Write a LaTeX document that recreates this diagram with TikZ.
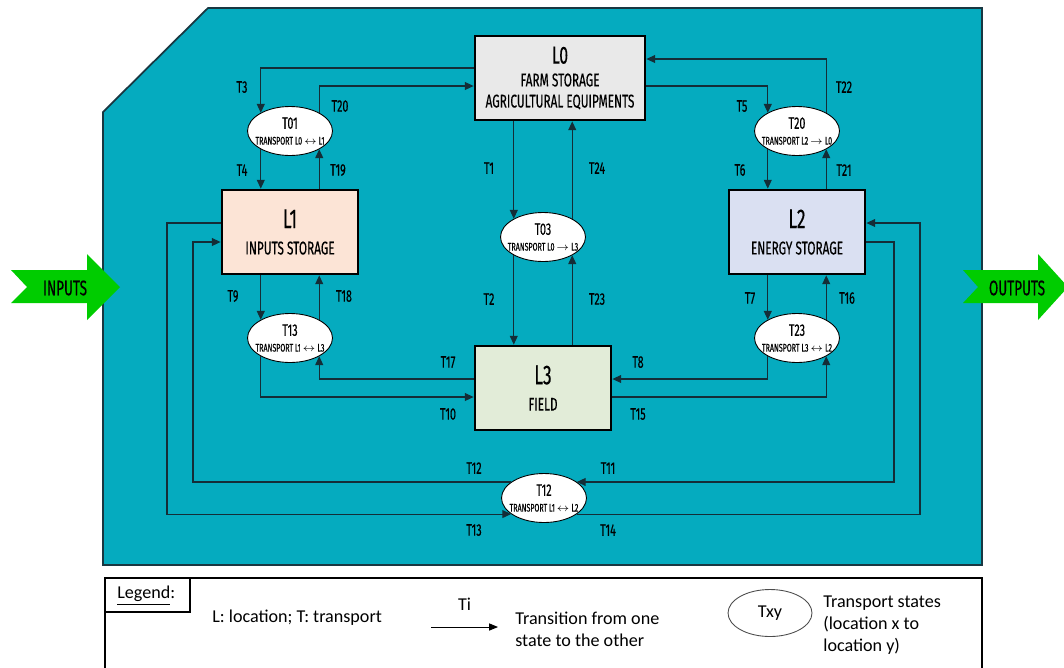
\documentclass[tikz,border=0pt]{standalone}
\usepackage{fontspec}
\setmainfont{Carlito}
\newfontfamily\agency{Fira Sans}[FakeStretch=0.64, FakeBold=0.4]
\usetikzlibrary{arrows.meta,shapes.geometric}
\definecolor{panelteal}{RGB}{5,171,191}
\definecolor{paneledge}{RGB}{25,55,65}
\definecolor{lineink}{RGB}{20,45,55}
\definecolor{fillzero}{RGB}{233,233,233}
\definecolor{fillone}{RGB}{252,228,214}
\definecolor{filltwo}{RGB}{218,224,242}
\definecolor{fillthree}{RGB}{226,236,216}
\definecolor{arrowgreen}{RGB}{0,204,0}
\tikzset{
  loc/.style={draw=black, line width=1.6pt, minimum width=2.72cm, minimum height=1.68cm,
    inner sep=0pt, align=center, font=\agency\fontsize{10.5}{12}\selectfont},
  tstate/.style={ellipse, draw=black, line width=0.5pt, fill=white,
    minimum width=1.7cm, minimum height=0.98cm, inner sep=0pt},
  tstext/.style={align=center, inner sep=0pt, font=\agency\fontsize{6.3}{8}\selectfont},
  tlab/.style={font=\agency\fontsize{9.5}{10}\selectfont, inner sep=0pt},
  tr/.style={draw=lineink, line width=0.6pt, -{Triangle[length=5pt,width=4.5pt]}},
  leg/.style={font=\fontsize{10.3}{12.5}\selectfont, align=left, inner sep=0pt}
}
\begin{document}
\begin{tikzpicture}[x=0.02cm, y=-0.02cm]
\useasboundingbox (0,0) rectangle (1064,667);

% panel
\filldraw[fill=panelteal, draw=paneledge, line width=1pt]
  (103,112) -- (208,8) -- (982,8) -- (982,565) -- (103,565) -- cycle;

% in / out arrows
\fill[arrowgreen] (11,270) -- (87,270) -- (87,254) -- (120,287) -- (87,320)
  -- (87,303) -- (11,303) -- (27,287) -- cycle;
\node[font=\agency\fontsize{12}{13}\selectfont, inner sep=0pt] (inputs) at (65,288) {INPUTS};
\fill[arrowgreen] (963,270) -- (1038,270) -- (1038,254) -- (1068,287) -- (1038,320)
  -- (1038,303) -- (963,303) -- (978,287) -- cycle;
\node[font=\agency\fontsize{12}{13}\selectfont, inner sep=0pt] (outputs) at (1017,288) {OUTPUTS};

% locations
\node[loc, fill=fillzero, minimum width=3.4cm] (L0) at (560,78)
  {{\fontsize{14}{15}\selectfont L0}\\[1pt]FARM STORAGE\\AGRICULTURAL EQUIPMENTS};
\node[loc, fill=fillone] (L1) at (290,232)
  {{\fontsize{15.5}{16}\selectfont L1}\\[3pt]INPUTS STORAGE};
\node[loc, fill=filltwo] (L2) at (797,232)
  {{\fontsize{15.5}{16}\selectfont L2}\\[3pt]ENERGY STORAGE};
\node[loc, fill=fillthree] (L3) at (543,388)
  {{\fontsize{15.5}{16}\selectfont L3}\\[3pt]FIELD};

% transport states
\foreach \n/\x/\y/\s in {T01/290/131/{L0 $\leftrightarrow$ L1}, T20/797/131/{L2 $\rightarrow$ L0},
    T03/543/237/{L0 $\rightarrow$ L3}, T13/290/338/{L1 $\leftrightarrow$ L3},
    T23/797/338/{L3 $\leftrightarrow$ L2}, T12/544/498/{L1 $\leftrightarrow$ L2}}
  \node[tstate, label={[tstext]center:{{\fontsize{9.5}{10}\selectfont\n}\\[1pt]TRANSPORT \s}}] (\n) at (\x,\y) {};

% transitions
\draw[tr] (L0.west |- 0,68) -| (T01.148);
\draw[tr] (T01.32) |- (L0.west |- 0,86);
\draw[tr] (T01.212) -- (T01.212 |- L1.north);
\draw[tr] (T01.328 |- L1.north) -- (T01.328);
\draw[tr] (L0.east |- 0,86) -| (T20.148);
\draw[tr] (T20.32) |- (L0.east |- 0,59);
\draw[tr] (T20.212) -- (T20.212 |- L2.north);
\draw[tr] (T20.328 |- L2.north) -- (T20.328);
\draw[tr] (T03.148 |- L0.south) -- (T03.148);
\draw[tr] (T03.32) -- (T03.32 |- L0.south);
\draw[tr] (T03.212) -- (T03.212 |- L3.north);
\draw[tr] (T03.328 |- L3.north) -- (T03.328);
\draw[tr] (T13.148 |- L1.south) -- (T13.148);
\draw[tr] (T13.32) -- (T13.32 |- L1.south);
\draw[tr] (L3.west |- 0,379) -| (T13.328);
\draw[tr] (T13.212) |- (L3.west |- 0,397);
\draw[tr] (T23.148 |- L2.south) -- (T23.148);
\draw[tr] (T23.32) -- (T23.32 |- L2.south);
\draw[tr] (T23.212) |- (L3.east |- 0,379);
\draw[tr] (L3.east |- 0,397) -| (T23.328);
\draw[tr] (L2.east |- 0,242) -- (894,242) |- (T12.26);
\draw[tr] (T12.334) -| (920,223) -- (L2.east |- 0,223);
\draw[tr] (T12.154) -| (193,242) -- (L1.west |- 0,242);
\draw[tr] (L1.west |- 0,223) -- (167,223) |- (T12.206);

\foreach \t/\x/\y in {T3/242/87, T20/340/106, T4/242/170, T19/338/170,
    T5/742/106, T22/844/87, T6/740/170, T21/844/170,
    T1/489/168, T24/597/168, T2/489/299, T23/597/299,
    T9/233/296, T18/344/296, T7/750/298, T16/847/298,
    T17/448/362, T10/448/414, T8/638/362, T15/638/414,
    T12/474/468, T11/608/468, T13/474/530, T14/608/530}
  \node[tlab] (l\t) at (\x,\y) {\t};

% legend
\draw[line width=0.8pt] (105,680) -- (105,578) -- (982,578) -- (982,680);
\draw[line width=0.8pt] (105,612) -| (190,578);
\node[leg, anchor=west] (legtitle) at (117,596) {\underline{Legend}:};
\node[leg, anchor=west] (legloc) at (212,618) {L: location; T: transport};
\coordinate (ti0) at (431,627);
\coordinate (ti1) at (498,627);
\draw[line width=0.5pt, -{Triangle[length=5pt,width=4pt]}] (ti0) -- node[leg, above=9pt] (legti) {Ti} (ti1);
\node[leg, anchor=west] (legtr) at (515,629) {Transition from one\\state to the other};
\node[ellipse, draw=black!70, line width=0.5pt, minimum width=1.68cm, minimum height=0.94cm,
  inner sep=0pt, font=\fontsize{10.3}{12.5}\selectfont] (legtxy) at (770,613) {Txy};
\node[leg, anchor=west] (legts) at (823,625) {Transport states\\(location x to\\location y)};
\end{tikzpicture}
\end{document}
